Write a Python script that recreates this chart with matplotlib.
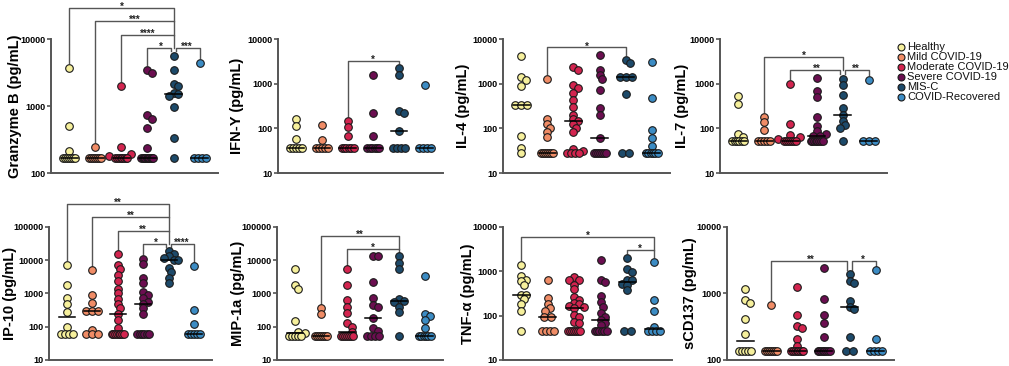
import numpy as np
import matplotlib
matplotlib.use("Agg")
import matplotlib.pyplot as plt
from matplotlib.lines import Line2D
from matplotlib.ticker import FuncFormatter, NullLocator

plt.rcParams['font.family'] = ['Liberation Sans', 'DejaVu Sans']

groups = ["Healthy", "Mild COVID-19", "Moderate COVID-19", "Severe COVID-19",
          "MIS-C", "COVID-Recovered"]
colors = ["#f6f09c", "#f08c66", "#d3244f", "#6b0e50", "#1d4a6a", "#3c8cc4"]

# values (pg/mL) per group
granzyme_b = [
    [3700, 500, 215] + [170] * 7,
    [245] + [170] * 7,
    [2000, 245, 190, 178] + [170] * 8,
    [3450, 3100, 730, 650, 470, 240] + [170] * 10,
    [5700, 3450, 2150, 1980, 1550, 1520, 1400, 980, 330, 170],
    [4450] + [170] * 4,
]
ifn_y = [
    [160, 113, 59] + [36] * 5,
    [118, 56] + [36] * 5,
    [147, 106, 67] + [36] * 6,
    [1600, 224, 68] + [36] * 6,
    [2240, 1580, 240, 225, 90] + [36] * 4,
    [940] + [36] * 4,
]
il_4 = [
    [4300, 1400, 1220, 890, 330, 330, 330, 67, 36, 28],
    [1300, 165, 128, 105, 83, 64] + [28] * 7,
    [2430, 2050, 940, 790, 630, 430, 295, 200, 160, 148, 124, 100, 83, 35, 32] + [28] * 4,
    [4450, 2000, 1600, 1300, 725, 280, 200, 60] + [28] * 7,
    [3430, 3000, 1450, 1450, 1450, 580, 28, 28],
    [3100, 470, 92, 60, 40] + [28] * 6,
]
il_7 = [
    [530, 345, 77, 65] + [52] * 6,
    [183, 140, 92] + [52] * 5,
    [1000, 125, 72, 64, 58] + [52] * 7,
    [1380, 700, 500, 183, 115, 90, 75, 68, 68] + [52] * 8,
    [1280, 940, 560, 290, 200, 145, 120, 104, 52],
    [1220] + [52] * 3,
]
ip_10 = [
    [7400, 1860, 710, 500, 280, 100] + [59] * 4,
    [5000, 890, 525, 295, 295, 295, 80] + [59] * 3,
    [15000, 7400, 5600, 3550, 2400, 1400, 1000, 680, 470, 355, 250, 160, 93] + [59] * 8,
    [11200, 7900, 2950, 2100, 1120, 890, 710, 560, 500, 355, 250] + [59] * 6,
    [18600, 15800, 13200, 12000, 10500, 10000, 5900, 4470, 3000, 2000],
    [6600, 330, 117] + [59] * 5,
]
mip_1a = [
    [5370, 1860, 1410, 147, 70, 64] + [52] * 5,
    [355, 250] + [52] * 7,
    [5370, 1860, 630, 400, 265, 126, 100, 70] + [52] * 7,
    [13200, 13000, 2240, 710, 450, 400, 185, 89, 76] + [52] * 4,
    [13000, 8000, 5300, 700, 600, 560, 400, 280, 52],
    [3300, 250, 210, 160, 89] + [52] * 6,
]
tnf_a = [
    [1420, 780, 650, 600, 480, 300, 290, 240, 183, 127, 45],
    [650, 245, 183, 150, 127, 95, 95] + [45] * 4,
    [750, 650, 640, 490, 390, 265, 230, 190, 180, 165, 155, 150, 105, 95, 73, 67] + [45] * 7,
    [1800, 650, 580, 275, 200, 160, 112, 95, 80, 67, 60] + [45] * 6,
    [2050, 1100, 970, 630, 625, 530, 480, 375, 45, 45],
    [1630, 225, 127, 56] + [45] * 4,
]
scd137 = [
    [1150, 810, 725, 410, 245] + [138] * 5,
    [670] + [138] * 7,
    [1260, 470, 325, 300, 210, 165] + [138] * 8,
    [2420, 820, 470, 365, 225] + [138] * 8,
    [1950, 1550, 1440, 780, 630, 590, 220, 138, 138],
    [2240, 204] + [138] * 4,
]

# significance brackets: (group a, group b, label)
granzyme_sig = [(3, 4, "*"), (4, 5, "***"), (2, 4, "****"), (1, 4, "***"), (0, 4, "*")]
ifn_sig = [(2, 4, "*")]
il4_sig = [(1, 4, "*")]
il7_sig = [(2, 4, "**"), (4, 5, "**"), (1, 4, "*")]
ip10_sig = [(3, 4, "*"), (4, 5, "****"), (2, 4, "**"), (1, 4, "**"), (0, 4, "**")]
mip_sig = [(2, 4, "*"), (1, 4, "**")]
tnf_sig = [(4, 5, "*"), (0, 5, "*")]
scd_sig = [(1, 4, "**"), (4, 5, "*")]

panels = [
    ("Granzyme B (pg/mL)", granzyme_b, (100, 10000), granzyme_sig),
    ("IFN-Y (pg/mL)", ifn_y, (10, 10000), ifn_sig),
    ("IL-4 (pg/mL)", il_4, (10, 10000), il4_sig),
    ("IL-7 (pg/mL)", il_7, (10, 10000), il7_sig),
    ("IP-10 (pg/mL)", ip_10, (10, 100000), ip10_sig),
    ("MIP-1a (pg/mL)", mip_1a, (10, 100000), mip_sig),
    ("TNF-α (pg/mL)", tnf_a, (10, 10000), tnf_sig),
    ("sCD137 (pg/mL)", scd137, (100, 10000), scd_sig),
]

W, H = 1009, 366
axes_pos = [
    (0.0505, 0.527, 0.1655, 0.366),
    (0.2755, 0.527, 0.1635, 0.366),
    (0.4985, 0.527, 0.1655, 0.366),
    (0.7136, 0.527, 0.1655, 0.366),
    (0.0486, 0.0164, 0.1615, 0.3634),
    (0.2745, 0.0164, 0.1645, 0.3634),
    (0.4985, 0.0164, 0.1675, 0.3634),
    (0.7205, 0.0164, 0.1655, 0.3634),
]
label_gap = [29, 34, 33, 31, 32, 32, 28, 30]  # px from axis to label
XLIM = (-0.7, 5.7)
AXC = "#555555"


def swarm(vals, ppd, ppx, d=7.2, maxw=12.0):
    # simple beeswarm in pixel space; ties go in a compressed row
    vals = np.asarray(vals, float)
    ys = np.log10(vals) * ppd
    xs = np.full(len(vals), np.nan)
    uniq, cnt = np.unique(vals, return_counts=True)
    for u, c in zip(uniq, cnt):
        if c > 1:
            idx = np.where(vals == u)[0]
            step = min(d, maxw / (c - 1))
            xs[idx] = (np.arange(c) - (c - 1) / 2) * step
    cands = [0]
    for k in range(1, 7):
        cands += [k * d / 3, -k * d / 3]
    for k in np.argsort(-vals):
        if not np.isnan(xs[k]):
            continue
        placed = ~np.isnan(xs)
        best, bestd = 0, -1
        for c in cands:
            if placed.any():
                dist = np.hypot(xs[placed] - c, ys[placed] - ys[k]).min()
            else:
                dist = np.inf
            if dist >= 0.6 * d:
                best = c
                break
            if dist > bestd:
                best, bestd = c, dist
        xs[k] = best
    return xs / ppx


fig = plt.figure(figsize=(W / 100, H / 100), dpi=100)

for (label, data, ylim, sig), pos, gap in zip(panels, axes_pos, label_gap):
    ax = fig.add_axes(pos)
    ax.set_yscale("log")
    ax.set_ylim(*ylim)
    ax.set_xlim(*XLIM)
    lo, hi = np.log10(ylim[0]), np.log10(ylim[1])
    w_px, h_px = pos[2] * W, pos[3] * H
    ppd = h_px / (hi - lo)
    ppx = w_px / (XLIM[1] - XLIM[0])

    def frac(v):
        return (np.log10(v) - lo) / (hi - lo)

    for g, vals in enumerate(data):
        offs = swarm(vals, ppd, ppx)
        ax.scatter(g + offs, vals, s=30, color=colors[g], edgecolor="#1a1a1a",
                   linewidth=0.8, zorder=3, clip_on=False)
        med = np.median(vals)
        ax.plot([g - 0.32, g + 0.32], [med, med], color="black", lw=1.1, zorder=4)

    # bracket tiers
    tiers = []
    for a, b, txt in sig:
        t = 0
        for (a2, b2, _), t2 in zip(sig, tiers):
            if max(a, a2) < min(b, b2):
                t = max(t, t2 + 1)
        tiers.append(t)
    ntier = max(tiers) + 1
    levels = []
    for t in range(ntier):
        need = max(frac(max(max(data[g]) for g in range(a, b + 1))) + 0.055
                   for (a, b, _), tt in zip(sig, tiers) if tt == t)
        if t > 0:
            need = max(need, levels[-1] + 0.1)
        levels.append(need)

    tr = ax.get_xaxis_transform()
    for (a, b, txt), t in zip(sig, tiers):
        L = levels[t]
        ends = []
        for g, side in ((a, 1), (b, -1)):
            same = [1 for (a2, b2, _), t2 in zip(sig, tiers)
                    if t2 == t and (a2, b2) != (a, b) and g in (a2, b2)]
            x = g + side * 0.1 if same else g
            lower = [levels[t2] for (a2, b2, _), t2 in zip(sig, tiers)
                     if t2 < t and g in (a2, b2)]
            y_end = max(lower) if lower else frac(max(data[g])) + 0.035
            ends.append((x, y_end))
        (x1, y1), (x2, y2) = ends
        ax.plot([x1, x1, x2, x2], [y1, L, L, y2], color=AXC, lw=1.0,
                transform=tr, clip_on=False, zorder=2)
        ax.text((a + b) / 2, L + 0.008, txt, transform=tr, ha="center", va="center",
                fontsize=7, fontweight="bold", color="#222222")

    for s in ("top", "right"):
        ax.spines[s].set_visible(False)
    for s in ("left", "bottom"):
        ax.spines[s].set_color(AXC)
        ax.spines[s].set_linewidth(1.4)
    ax.set_xticks([])
    ax.set_yticks([10 ** k for k in range(int(lo), int(hi) + 1)])
    ax.yaxis.set_minor_locator(NullLocator())
    ax.yaxis.set_major_formatter(FuncFormatter(lambda v, p: f"{int(round(v))}"))
    ax.tick_params(axis="y", length=3, width=1.2, color=AXC, labelsize=6.5, pad=0.8)
    for tl in ax.get_yticklabels():
        tl.set_fontweight("bold")
    ax.set_ylabel(label, fontsize=10.5, fontweight="bold")
    ax.yaxis.set_label_coords(-gap / w_px, 0.5)

# legend
for k, (g, c) in enumerate(zip(groups, colors)):
    y = 1 - (46.7 + 10.0 * k) / H
    fig.add_artist(Line2D([901 / W], [y], marker="o", ls="none", markersize=5,
                          markerfacecolor=c, markeredgecolor="#1a1a1a",
                          markeredgewidth=0.8, transform=fig.transFigure))
    fig.text(907 / W, y, g, fontsize=8, va="center", ha="left", color="#111111")

fig.savefig("out.png", dpi=100)
